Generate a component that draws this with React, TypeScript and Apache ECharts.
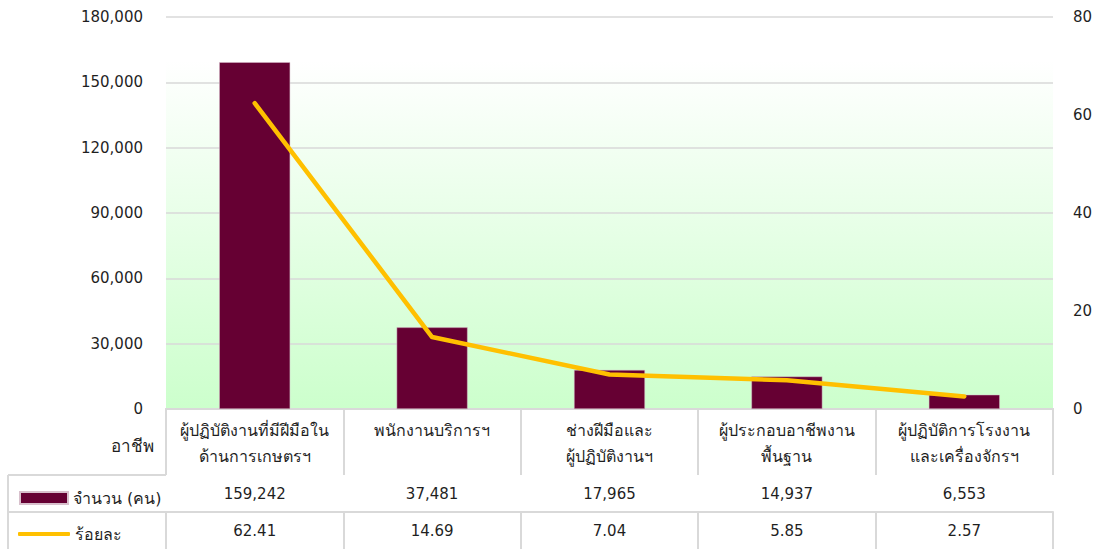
import React, { useEffect, useRef } from "react";
import * as echarts from "echarts";

const categories = [
  "ผู้ปฏิบัติงานที่มีฝีมือใน\nด้านการเกษตรฯ",
  "พนักงานบริการฯ",
  "ช่างฝีมือและ\nผู้ปฏิบัติงานฯ",
  "ผู้ประกอบอาชีพงาน\nพื้นฐาน",
  "ผู้ปฏิบัติการโรงงาน\nและเครื่องจักรฯ",
];
const counts = [159242, 37481, 17965, 14937, 6553];
const percents = [62.41, 14.69, 7.04, 5.85, 2.57];
const countName = "จำนวน (คน)";
const percentName = "ร้อยละ";
const rowHeader = "อาชีพ";

const FONT = 'Tahoma, "DejaVu Sans", "Noto Sans", sans-serif';
const TXT = "#1f1f1f";
const BORDER = "#d9d9d9";

export default function App() {
  const ref = useRef<HTMLDivElement>(null);
  useEffect(() => {
    if (!ref.current) return;
    const chart = echarts.init(ref.current, undefined, { renderer: "svg" });
    const fmt = (v: number) => v.toLocaleString("en-US");
    chart.setOption({
      animation: false,
      textStyle: { fontFamily: FONT },
      grid: { left: 166, right: 49, top: 17, bottom: 140 },
      legend: [
        {
          left: 14,
          top: 485,
          itemWidth: 48,
          itemHeight: 12,
          textStyle: { fontSize: 16, color: TXT, fontFamily: FONT },
          data: [{ name: countName, icon: "rect" }],
        },
        {
          left: 13,
          top: 521,
          itemWidth: 52,
          itemHeight: 4,
          textStyle: { fontSize: 16, color: TXT, fontFamily: FONT },
          data: [{ name: percentName, icon: "roundRect" }],
        },
      ],
      graphic: [
        {
          type: "rect",
          z: -10,
          silent: true,
          shape: { x: 166, y: 61, width: 887, height: 348 },
          style: {
            fill: new echarts.graphic.LinearGradient(0, 0, 0, 1, [
              { offset: 0, color: "#ffffff" },
              { offset: 1, color: "#ccffcc" },
            ]),
          },
        },
        {
          type: "text",
          right: 1102 - 154,
          top: 437,
          style: { text: rowHeader, fontSize: 17, fill: TXT, fontFamily: FONT },
        },
        { type: "line", shape: { x1: 8, y1: 475, x2: 166, y2: 475 }, style: { stroke: BORDER, lineWidth: 2 } },
        { type: "line", shape: { x1: 8, y1: 512, x2: 166, y2: 512 }, style: { stroke: BORDER, lineWidth: 2 } },
        { type: "line", shape: { x1: 8, y1: 475, x2: 8, y2: 549 }, style: { stroke: BORDER, lineWidth: 2 } },
      ],
      xAxis: [
        {
          type: "category",
          data: categories,
          position: "bottom",
          axisLine: { show: true, lineStyle: { color: BORDER, width: 2 } },
          axisTick: { show: true, length: 66, lineStyle: { color: BORDER, width: 2 } },
          axisLabel: { fontSize: 16, color: TXT, lineHeight: 26, margin: 8, interval: 0, fontFamily: FONT },
        },
        {
          type: "category",
          data: counts.map(fmt),
          position: "bottom",
          offset: 66,
          axisLine: { show: true, lineStyle: { color: BORDER, width: 2 } },
          axisTick: { show: true, length: 37, lineStyle: { color: BORDER, width: 2 } },
          axisLabel: { fontSize: 15, color: TXT, margin: 11, interval: 0, fontFamily: FONT },
        },
        {
          type: "category",
          data: percents.map((v) => v.toFixed(2)),
          position: "bottom",
          offset: 103,
          axisLine: { show: true, lineStyle: { color: BORDER, width: 2 } },
          axisTick: { show: true, length: 37, lineStyle: { color: BORDER, width: 2 } },
          axisLabel: { fontSize: 15, color: TXT, margin: 11, interval: 0, fontFamily: FONT },
        },
      ],
      yAxis: [
        {
          type: "value",
          min: 0,
          max: 180000,
          interval: 30000,
          axisLine: { show: false },
          axisTick: { show: false },
          splitLine: { show: true, lineStyle: { color: BORDER, width: 1.5 } },
          axisLabel: { fontSize: 15, color: TXT, margin: 23, formatter: (v: number) => fmt(v), fontFamily: FONT },
        },
        {
          type: "value",
          min: 0,
          max: 80,
          interval: 20,
          position: "right",
          axisLine: { show: false },
          axisTick: { show: false },
          splitLine: { show: false },
          axisLabel: { fontSize: 15, color: TXT, margin: 20, fontFamily: FONT },
        },
      ],
      series: [
        {
          name: countName,
          type: "bar",
          data: counts,
          barWidth: "40%",
          itemStyle: { color: "#660033", borderColor: "#d8c0cc", borderWidth: 0.5 },
        },
        {
          name: percentName,
          type: "line",
          yAxisIndex: 1,
          data: percents,
          symbol: "none",
          showSymbol: false,
          lineStyle: { color: "#ffc000", width: 4.5, cap: "round", join: "round" },
          itemStyle: { color: "#ffc000" },
        },
      ],
    });
    return () => chart.dispose();
  }, []);
  return <div ref={ref} style={{ width: 1102, height: 549, position: "absolute", left: 0, top: 0 }} />;
}
